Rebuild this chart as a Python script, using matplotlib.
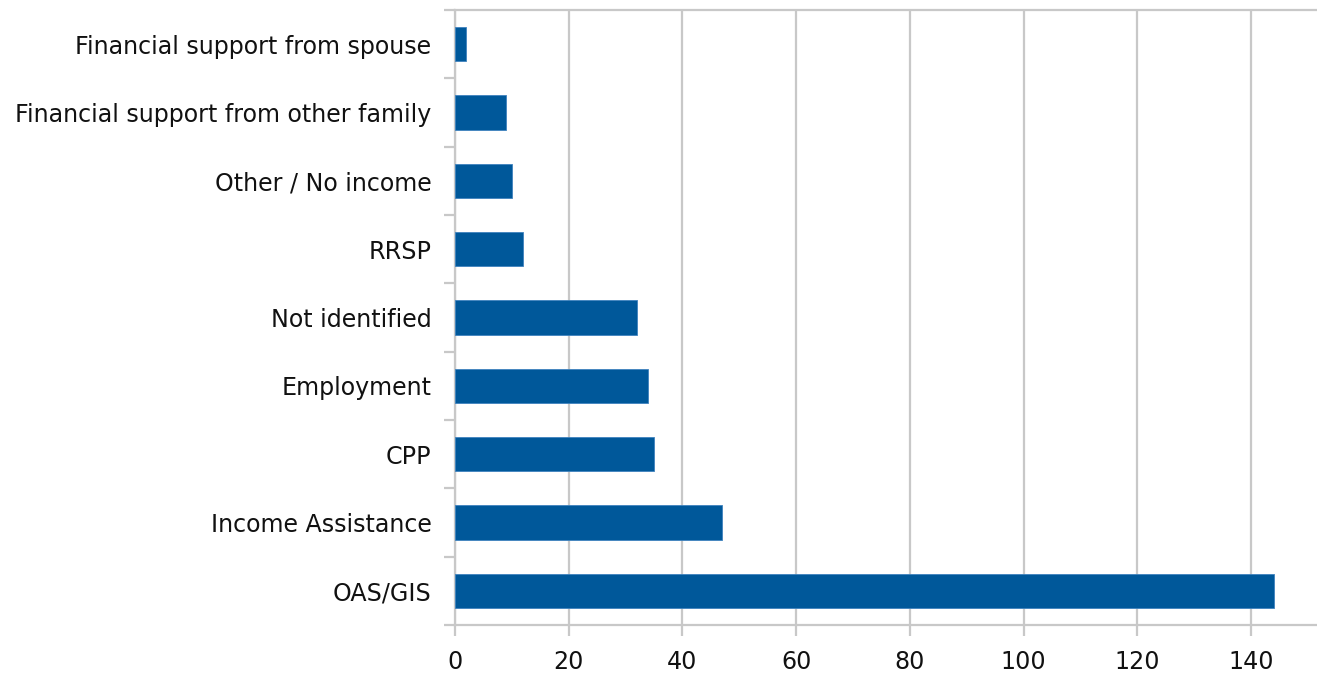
import matplotlib
matplotlib.use("Agg")
import matplotlib.pyplot as plt
from matplotlib.ticker import FixedLocator
import numpy as np

categories = [
    "OAS/GIS",
    "Income Assistance",
    "CPP",
    "Employment",
    "Not identified",
    "RRSP",
    "Other / No income",
    "Financial support from other family",
    "Financial support from spouse",
]
counts = [144, 47, 35, 34, 32, 12, 10, 9, 2]
x_ticks = [0, 20, 40, 60, 80, 100, 120, 140]

bar_color = "#00589A"
grid_color = "#C8C8C8"

plt.rcParams["font.family"] = ["DejaVu Sans"]

W, H = 1317, 675
fig = plt.figure(figsize=(W / 100, H / 100), dpi=100)
left, right, top, bottom = 455, 1317, 10, 625
ax = fig.add_axes([left / W, 1 - bottom / H, (right - left) / W, (bottom - top) / H])

y = np.arange(len(categories))
ax.barh(y, counts, height=0.5, color=bar_color, edgecolor="#3F82BE",
        linewidth=0.6, zorder=3)

ax.set_ylim(-0.5, len(categories) - 0.5)
ax.set_xlim(0, 151.6)

ax.set_xticks(x_ticks)
ax.set_xticklabels([str(v) for v in x_ticks])
ax.set_yticks(y)
ax.set_yticklabels(categories)
ax.yaxis.set_minor_locator(FixedLocator(np.arange(-0.5, len(categories), 1.0)))

ax.grid(axis="x", color=grid_color, linewidth=1.6, zorder=0)
for side in ["top", "bottom", "left"]:
    ax.spines[side].set_color(grid_color)
    ax.spines[side].set_linewidth(1.6)
ax.spines["right"].set_visible(False)

ax.tick_params(axis="y", which="major", length=0, pad=17, labelsize=17.1,
               labelcolor="#111111")
ax.tick_params(axis="y", which="minor", length=8, width=1.6, color=grid_color)
ax.tick_params(axis="x", which="major", length=8, width=1.6, color=grid_color,
               pad=10, labelsize=17.1, labelcolor="#111111")

fig.savefig("out.png", dpi=100)
